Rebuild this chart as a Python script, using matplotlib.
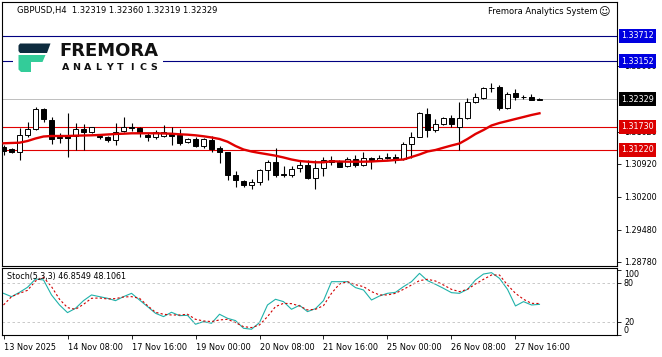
import matplotlib
matplotlib.use('Agg')
import matplotlib.pyplot as plt
from matplotlib.patches import Polygon, Rectangle
from matplotlib.transforms import blended_transform_factory
import numpy as np

plt.rcParams['font.family'] = ['DejaVu Sans']

W, H = 662, 357

# GBPUSD H4 candles, 13 Nov 00:00 .. 28 Nov 04:00
opens = [1.31285, 1.31231, 1.31166, 1.31536, 1.31678, 1.32103, 1.31874, 1.31503, 1.31525, 1.31525,
         1.31667, 1.31602, 1.31525, 1.31503, 1.31427, 1.31634, 1.31732, 1.31689, 1.31547, 1.31514,
         1.31525, 1.31558, 1.31536, 1.31384, 1.31449, 1.31307, 1.31438, 1.31253, 1.31166, 1.30675,
         1.30544, 1.30457, 1.30512, 1.30784, 1.30958, 1.30686, 1.30664, 1.30817, 1.30893, 1.30599,
         1.30828, 1.31002, 1.30958, 1.30871, 1.31013, 1.30882, 1.31035, 1.30991, 1.31057, 1.31057,
         1.31024, 1.31340, 1.31514, 1.32005, 1.31645, 1.31776, 1.31907, 1.31732, 1.31918, 1.32266,
         1.32354, 1.32572, 1.32593, 1.32136, 1.32452, 1.32365, 1.32375, 1.32319]
highs = [1.31329, 1.31264, 1.31700, 1.31820, 1.32147, 1.32125, 1.31939, 1.31580, 1.32016, 1.31798,
         1.31787, 1.31732, 1.31558, 1.31525, 1.31809, 1.31939, 1.31798, 1.31721, 1.31580, 1.31645,
         1.31765, 1.31721, 1.31678, 1.31482, 1.31493, 1.31482, 1.31525, 1.31307, 1.31187, 1.30762,
         1.30566, 1.30588, 1.30806, 1.31002, 1.31253, 1.30871, 1.30871, 1.30991, 1.31002, 1.31002,
         1.31067, 1.31089, 1.31002, 1.31078, 1.31111, 1.31166, 1.31078, 1.31111, 1.31144, 1.31122,
         1.31384, 1.31623, 1.32059, 1.32136, 1.31885, 1.31950, 1.31972, 1.32266, 1.32354, 1.32463,
         1.32604, 1.32681, 1.32637, 1.32495, 1.32550, 1.32408, 1.32441, 1.32360]
lows = [1.31111, 1.31144, 1.31002, 1.31503, 1.31656, 1.31841, 1.31340, 1.31373, 1.31057, 1.31220,
        1.31220, 1.31580, 1.31460, 1.31405, 1.31329, 1.31612, 1.31634, 1.31503, 1.31416, 1.31449,
        1.31503, 1.31318, 1.31329, 1.31362, 1.31285, 1.31264, 1.31166, 1.30926, 1.30566, 1.30424,
        1.30413, 1.30359, 1.30457, 1.30566, 1.30642, 1.30642, 1.30621, 1.30740, 1.30588, 1.30359,
        1.30653, 1.30893, 1.30839, 1.30860, 1.30849, 1.30871, 1.30806, 1.30980, 1.31013, 1.30937,
        1.31002, 1.31035, 1.31503, 1.31514, 1.31612, 1.31754, 1.31732, 1.31220, 1.31896, 1.32245,
        1.32332, 1.32495, 1.32081, 1.32120, 1.32299, 1.32332, 1.32299, 1.32319]
closes = [1.31198, 1.31166, 1.31547, 1.31678, 1.32103, 1.31896, 1.31460, 1.31482, 1.31471, 1.31667,
          1.31602, 1.31711, 1.31493, 1.31427, 1.31623, 1.31721, 1.31700, 1.31591, 1.31493, 1.31602,
          1.31612, 1.31525, 1.31373, 1.31449, 1.31307, 1.31449, 1.31242, 1.31166, 1.30675, 1.30555,
          1.30446, 1.30512, 1.30784, 1.30958, 1.30664, 1.30664, 1.30806, 1.30893, 1.30599, 1.30828,
          1.31002, 1.30969, 1.30860, 1.31024, 1.30882, 1.31035, 1.30991, 1.31046, 1.31035, 1.30991,
          1.31340, 1.31514, 1.32027, 1.31645, 1.31776, 1.31918, 1.31776, 1.31907, 1.32266, 1.32386,
          1.32572, 1.32561, 1.32125, 1.32430, 1.32375, 1.32365, 1.32320, 1.32329]

# red moving average
ma = [1.31366, 1.31373, 1.31379, 1.31416, 1.31471, 1.31514, 1.31525, 1.31525, 1.31525, 1.31532,
      1.31536, 1.31540, 1.31547, 1.31558, 1.31569, 1.31575, 1.31584, 1.31584, 1.31584, 1.31584,
      1.31580, 1.31575, 1.31562, 1.31554, 1.31540, 1.31519, 1.31493, 1.31460, 1.31401, 1.31307,
      1.31231, 1.31187, 1.31155, 1.31126, 1.31096, 1.31057, 1.31013, 1.30980, 1.30965, 1.30952,
      1.30952, 1.30974, 1.30969, 1.30965, 1.30965, 1.30965, 1.30969, 1.30980, 1.30987, 1.31002,
      1.31013, 1.31067, 1.31122, 1.31187, 1.31220, 1.31270, 1.31318, 1.31362, 1.31460, 1.31569,
      1.31656, 1.31754, 1.31809, 1.31852, 1.31896, 1.31939, 1.31983, 1.32020]

# Stochastic (5,3,3)
stoch_main = [63.7, 58.6, 65.2, 72.9, 85.6, 84.1, 61.2, 45.9, 34.2, 40.8,
              52.5, 61.2, 58.6, 56.1, 52.5, 58.6, 63.7, 53.5, 43.4, 33.2,
              28.1, 34.7, 29.6, 30.1, 16.4, 20.5, 17.9, 31.7, 25.5, 22.0,
              10.3, 8.8, 18.9, 45.9, 54.6, 51.0, 39.3, 45.4, 35.7, 40.3,
              52.5, 81.5, 81.5, 81.5, 72.4, 68.8, 53.5, 59.6, 63.7, 65.2,
              73.9, 81.5, 94.2, 83.1, 77.5, 71.3, 64.7, 63.7, 69.8, 84.1,
              93.2, 95.3, 86.6, 69.8, 44.4, 51.0, 45.9, 46.85]
stoch_signal = [45.9, 58.6, 63.7, 68.3, 82.5, 88.1, 73.9, 54.6, 41.8, 39.3,
                46.9, 56.1, 56.6, 55.1, 55.6, 58.1, 58.6, 56.1, 44.9, 34.7,
                31.7, 30.6, 30.6, 31.7, 24.0, 21.5, 20.5, 23.0, 24.0, 18.9,
                12.8, 11.3, 15.4, 28.1, 43.4, 48.4, 47.9, 44.4, 38.3, 39.3,
                44.9, 63.7, 78.0, 81.5, 76.9, 73.9, 66.3, 61.2, 61.2, 63.7,
                69.8, 76.4, 83.1, 85.1, 82.5, 76.4, 69.8, 66.3, 69.8, 78.0,
                85.1, 91.7, 91.7, 76.4, 63.7, 54.6, 48.4, 48.11]

time_ticks = [0, 8, 16, 24, 32, 40, 48, 56, 64]
time_labels = ['13 Nov 2025', '14 Nov 08:00', '17 Nov 16:00', '19 Nov 00:00', '20 Nov 08:00',
               '21 Nov 16:00', '25 Nov 00:00', '26 Nov 08:00', '27 Nov 16:00']
# scale labels that are not fully covered by the coloured price tags
price_ticks = [1.28780, 1.29480, 1.30200, 1.30920, 1.31620, 1.33060]
blue_levels = [1.33712, 1.33152]
red_levels = [1.31730, 1.31220]
last_price = 1.32329
stoch_levels = [80, 20]


def fx(x):
    return x / W


def fy(y):
    return 1 - y / H


fig = plt.figure(figsize=(W / 100, H / 100), dpi=100)
fig.patch.set_facecolor('white')

ax = fig.add_axes([fx(2), fy(266), 615 / W, (266 - 1.5) / H])
sub = fig.add_axes([fx(2), fy(335), 615 / W, (335 - 268) / H])

x = np.arange(len(opens))
o, h, l, c = map(np.array, (opens, highs, lows, closes))
xlim = (-0.19, 76.69)

# ── main price window ──
ax.vlines(x, l, h, color='black', lw=0.8, zorder=3)
up = c >= o
ax.bar(x, np.abs(c - o), bottom=np.minimum(o, c), width=0.55,
       color=np.where(up, 'white', 'black'), edgecolor='black', linewidth=0.7, zorder=3)
ax.plot(x, ma, color='#e00000', lw=1.7, zorder=4)

for v in blue_levels:
    ax.axhline(v, color='#000080', lw=0.8, zorder=2)
for v in red_levels:
    ax.axhline(v, color='#e00000', lw=0.8, zorder=2)
ax.axhline(last_price, color='#b4b4b4', lw=0.6, zorder=1)

ax.set_xlim(*xlim)
ax.set_ylim(1.28691, 1.34457)
ax.set_xticks([])
ax.yaxis.tick_right()
ax.set_yticks(price_ticks)
ax.set_yticklabels([f'{p:.5f}' for p in price_ticks])
ax.tick_params(axis='y', direction='out', length=3, width=0.6, pad=2, labelsize=5.8)
for s in ax.spines.values():
    s.set_linewidth(0.8)

tr = blended_transform_factory(ax.transAxes, ax.transData)
lab_x = 1.0065
for vals, col in ((blue_levels, '#0000e0'), (red_levels, '#dc0000'), ([last_price], 'black')):
    for v in vals:
        ax.text(lab_x, v, f'{v:.5f}', transform=tr, ha='left', va='center', fontsize=5.8,
                color='white', clip_on=False, zorder=6,
                bbox=dict(boxstyle='square,pad=0.3', fc=col, ec='none'))

# ── stochastic window ──
sub.plot(x, stoch_main, color='#20b2aa', lw=0.8)
sub.plot(x, stoch_signal, color='#d00000', lw=0.8, dashes=(2, 2))
for v in stoch_levels:
    sub.axhline(v, color='#c0c0c0', lw=0.6, dashes=(3, 3))
sub.set_xlim(*xlim)
sub.set_ylim(0.15, 102.4)
sub.yaxis.tick_right()
sub.set_yticks([100, 80, 20, 0])
sub.set_yticklabels(['100', '80', '20', '0'])
sub.tick_params(axis='y', direction='out', length=3, width=0.6, pad=2, labelsize=5.8)
lbls = sub.get_yticklabels()
lbls[0].set_va('top')
lbls[3].set_va('bottom')
sub.set_xticks(time_ticks)
sub.set_xticklabels(time_labels, ha='left')
sub.tick_params(axis='x', direction='out', length=3, width=0.6, pad=3, labelsize=5.9)
for s in sub.spines.values():
    s.set_linewidth(0.8)
sub.text(0.008, 0.88, 'Stoch(5,3,3) 46.8549 48.1061', transform=sub.transAxes,
         fontsize=5.8, ha='left', va='center')

# ── overlay: headers and logo ──
ov = fig.add_axes([0, 0, 1, 1], zorder=10)
ov.set_xlim(0, W)
ov.set_ylim(H, 0)
ov.axis('off')
ov.patch.set_visible(False)

ov.text(17, 11, 'GBPUSD,H4  1.32319 1.32360 1.32319 1.32329', fontsize=6,
        ha='left', va='center')
ov.text(597, 12, 'Fremora Analytics System', fontsize=6, ha='right', va='center')
ov.text(604, 12, '\u263a', fontsize=8, ha='center', va='center')

ov.add_patch(Rectangle((13, 42), 150, 33, fc='white', ec='none'))
navy = '#0d2b3e'
green = '#33cc99'
ov.add_patch(Polygon([(20, 43.5), (50.5, 43.5), (47, 53), (20, 53), (18.5, 51), (18.5, 45.5)],
                     closed=True, fc=navy, ec='none'))
ov.add_patch(Polygon([(18.5, 55), (45.5, 55), (42.5, 62), (31, 62), (31, 72), (21, 72),
                      (18.5, 69.5)], closed=True, fc=green, ec='none'))
ov.text(59, 50.5, 'FREMORA', fontsize=13, fontweight='bold', color='#111111',
        ha='left', va='center')
for k, ch in enumerate('ANALYTICS'):
    ov.text(65.5 + 11.0 * k, 67.5, ch, fontsize=6.8, fontweight='bold', color='#111111',
            ha='center', va='center')

fig.savefig('out.png', dpi=100)
